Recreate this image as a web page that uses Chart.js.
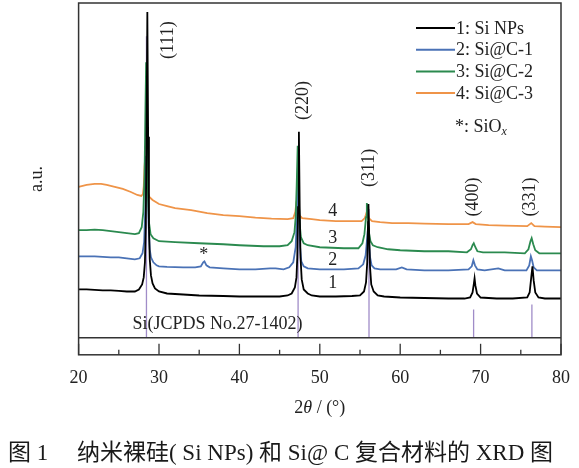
<html>
<head>
<meta charset="utf-8">
<style>
  body { margin: 0; background: #fff; }
</style>
</head>
<body>
<canvas id="xrd" width="579" height="468"></canvas>
<script src="https://cdn.jsdelivr.net/npm/chart.js@4.4.0/dist/chart.umd.min.js"></script>
<script>
// [2theta, intensity (a.u., offset per curve)]
const siNps = [
  [20,48],[21,48],[22,47.5],[23,47],[24,47],[25,46.5],[26,46],[27,46],[27.5,48],[27.9,53],[28.1,60],
  [28.25,75],[28.35,110],[28.45,200],[28.55,324],[28.65,200],[28.75,110],[28.85,78],[29.0,62],[29.2,54],
  [29.5,49],[30,46],[31,44],[33,43],[35,42],[38,41.5],[40,41],[43,41],[45,41],[46,42],[46.5,44],
  [46.9,50],[47.1,60],[47.2,80],[47.3,130],[47.4,205],[47.5,130],[47.6,80],[47.75,58],[48,48],[48.5,44],
  [49,42],[50,41],[52,41],[54,41.5],[55,42],[55.5,46],[55.75,55],[55.9,75],[56.0,115],[56.05,133],
  [56.15,100],[56.25,70],[56.4,53],[56.7,46],[57.2,42],[58,41],[60,40],[63,39.5],[66,39],[68,39],
  [68.7,40],[69.0,45],[69.15,53],[69.25,59],[69.35,52],[69.55,44],[70,40],[72,39],[74,39],[75.8,40],
  [76.1,45],[76.3,60],[76.45,71],[76.6,57],[76.8,45],[77.2,40],[78,39],[80,39]
];
const siC1 = [
  [20,81],[21,81],[22,81],[23,80.5],[24,80],[25,80],[26,79],[27,78],[27.6,79],[27.95,84],[28.15,95],
  [28.3,130],[28.4,180],[28.5,230],[28.6,170],[28.7,115],[28.85,88],[29.0,80],[29.3,75],[29.7,72],[30,71],
  [31,70.5],[33,70],[34.5,70],[35.2,71],[35.5,75],[35.65,76],[35.9,72],[36.3,70],[38,69],[40,68],[42,68],
  [43.8,69],[44.5,69],[45.5,68],[46.2,70],[46.7,75],[47.0,90],[47.15,120],[47.3,180],[47.42,130],
  [47.55,90],[47.7,76],[48,71],[48.5,69],[50,68],[53,68],[54.8,69],[55.4,73],[55.7,82],[55.9,100],
  [56.0,110],[56.1,98],[56.25,80],[56.45,72],[56.8,69],[57.5,68],[59.5,68],[60.2,70],[60.8,68],[63,67],
  [66,67],[68.5,68],[68.9,71],[69.1,77],[69.3,72],[69.6,68],[70.5,67],[72.2,69],[73,67],[75.7,67],
  [76.05,72],[76.25,81],[76.4,77],[76.6,70],[77,67],[78,67],[80,67]
];
const siC2 = [
  [20,107],[21,107],[22,107.5],[23,107],[24,106],[25,105],[26,104],[27,103],[27.5,104],[27.85,110],
  [28.05,125],[28.2,160],[28.3,220],[28.4,274],[28.5,210],[28.6,150],[28.75,115],[28.95,103],[29.3,99],
  [30,96],[32,95],[35,94],[38,93],[40,92],[43,91],[45,91],[46,92],[46.5,96],[46.85,105],[47.0,120],
  [47.12,150],[47.25,191],[47.35,150],[47.48,115],[47.65,100],[48,94],[48.5,92],[50,90],[53,89],
  [54.8,89],[55.3,94],[55.55,103],[55.75,120],[55.85,134],[55.95,125],[56.1,105],[56.3,96],[56.6,92],
  [57.2,90],[58.5,88],[60,87],[63,86],[66,86],[68.3,85],[68.8,88],[69.0,92],[69.15,94],[69.35,90],
  [69.6,86],[70.3,85],[73,85],[75.5,84],[75.95,88],[76.2,96],[76.35,99],[76.55,93],[76.8,87],[77.3,84],
  [78.5,84],[80,84]
];
const siC3 = [
  [20,150],[21,152],[22,153],[22.8,153],[23.5,152],[24.5,150],[25.5,148],[26.5,145],[27.3,142],[27.8,141],
  [28.0,143],[28.1,150],[28.2,170],[28.3,181],[28.4,165],[28.55,147],[28.8,140],[29.2,137],[30,133],
  [31,131],[32,129],[34,127],[36,124],[38,122],[40,121],[42,119.5],[44,118.5],[46,118],[46.7,119],
  [46.95,125],[47.1,135],[47.2,138],[47.3,130],[47.45,122],[47.8,119],[49,118],[50,117],[52,116],
  [54,116],[55.2,116],[55.6,119],[55.8,124],[55.95,123],[56.1,119],[56.5,116],[57.5,115],[59,114],
  [61,114],[63,113.5],[66,113],[68.5,113],[69.0,115],[69.4,113],[71,112],[73,111.5],[75.8,111],
  [76.3,114],[76.7,111],[78,110.5],[80,110]
];
// Si JCPDS No.27-1402 reference lines
const refPos = [28.44, 47.30, 56.12, 69.13, 76.38];
const refTop = [300, 190, 128, 28, 33];
const hkl = ['(111)', '(220)', '(311)', '(400)', '(331)'];

const seriesLabels = ['1: Si NPs', '2: Si@C-1', '3: Si@C-2', '4: Si@C-3'];
const seriesData = [siNps, siC1, siC2, siC3];
const seriesColors = ['#000000', '#4a72b6', '#2b8a4f', '#ef9448'];
const drawOrder = [1, 3, 2, 4];

const SERIF = '"Liberation Serif", "Times New Roman", serif';
const toXY = arr => arr.map(p => ({x: p[0], y: p[1]}));

const datasets = seriesData.map((d, i) => ({
  label: seriesLabels[i],
  data: toXY(d),
  borderColor: seriesColors[i],
  borderWidth: 1.8,
  pointRadius: 0,
  tension: 0,
  order: drawOrder[i]
}));
refPos.forEach((p, i) => {
  datasets.push({
    label: '',
    isRef: true,
    data: [{x: p, y: 0}, {x: p, y: refTop[i]}],
    borderColor: '#a08cc8',
    borderWidth: 1.3,
    pointRadius: 0,
    order: 10
  });
});

const decorations = {
  id: 'decorations',
  afterDatasetsDraw(chart) {
    const ctx = chart.ctx;
    const a = chart.chartArea;
    const xs = chart.scales.x, ys = chart.scales.y;
    ctx.save();
    // frame and reference strip
    ctx.strokeStyle = '#333';
    ctx.lineWidth = 1.5;
    ctx.strokeRect(a.left, a.top, a.right - a.left, a.bottom - a.top);
    const y0 = ys.getPixelForValue(0);
    ctx.beginPath();
    ctx.moveTo(a.left, y0); ctx.lineTo(a.right, y0);
    ctx.stroke();
    // inward ticks
    ctx.lineWidth = 1.3;
    for (let v = 20; v <= 80; v += 5) {
      const px = xs.getPixelForValue(v);
      const len = v % 10 === 0 ? 11 : 5;
      ctx.beginPath();
      ctx.moveTo(px, a.bottom); ctx.lineTo(px, a.bottom - len);
      ctx.stroke();
    }
    ctx.fillStyle = '#222';
    ctx.font = '18px ' + SERIF;
    // hkl labels, rotated
    const hklPos = [[31.1, 296], [48.0, 236], [56.2, 169], [69.05, 140], [76.2, 140]];
    hkl.forEach((t, i) => {
      ctx.save();
      ctx.translate(xs.getPixelForValue(hklPos[i][0]), ys.getPixelForValue(hklPos[i][1]));
      ctx.rotate(-Math.PI / 2);
      ctx.textAlign = 'center';
      ctx.textBaseline = 'middle';
      ctx.fillText(t, 0, 0);
      ctx.restore();
    });
    // curve numbers
    ctx.textAlign = 'center';
    ctx.textBaseline = 'middle';
    [[126, '4'], [99, '3'], [77, '2'], [54, '1']].forEach(n => {
      ctx.fillText(n[1], xs.getPixelForValue(51.6), ys.getPixelForValue(n[0]));
    });
    ctx.fillText('*', xs.getPixelForValue(35.56), ys.getPixelForValue(82));
    ctx.textAlign = 'left';
    ctx.fillText('Si(JCPDS No.27-1402)', xs.getPixelForValue(26.7), ys.getPixelForValue(13));
    // legend
    const lx0 = 416, lx1 = 455;
    chart.data.datasets.filter(d => !d.isRef).forEach((d, i) => {
      const ly = 28 + i * 21.7;
      ctx.strokeStyle = d.borderColor;
      ctx.lineWidth = 2;
      ctx.beginPath();
      ctx.moveTo(lx0, ly); ctx.lineTo(lx1, ly);
      ctx.stroke();
      ctx.fillStyle = '#222';
      ctx.fillText(d.label, lx1 + 1, ly + 1);
    });
    ctx.fillText('*: SiO', 455, 127);
    let w = ctx.measureText('*: SiO').width;
    ctx.font = 'italic 12px ' + SERIF;
    ctx.fillText('x', 455 + w, 132);
    // x axis title: 2θ / (°)
    const cx = (a.left + a.right) / 2, ty = 408;
    const parts = [['2', ''], ['θ', 'italic '], [' / (°)', '']];
    let total = 0;
    parts.forEach(p => { ctx.font = p[1] + '18px ' + SERIF; total += ctx.measureText(p[0]).width; });
    let x = cx - total / 2;
    parts.forEach(p => {
      ctx.font = p[1] + '18px ' + SERIF;
      ctx.fillText(p[0], x, ty);
      x += ctx.measureText(p[0]).width;
    });
    ctx.restore();
  }
};

new Chart(document.getElementById('xrd'), {
  type: 'line',
  data: { datasets },
  options: {
    responsive: false,
    animation: false,
    devicePixelRatio: 1,
    layout: { padding: { top: 3, right: 18, left: 0, bottom: 0 } },
    plugins: {
      legend: { display: false },
      tooltip: { enabled: false },
      title: {
        display: true,
        position: 'bottom',
        text: '图 1　 纳米裸硅( Si NPs) 和 Si@ C 复合材料的 XRD 图',
        color: '#1a1a1a',
        font: { family: '"Liberation Serif", "Noto Sans CJK SC", serif', size: 23, weight: 'normal' },
        padding: { top: 38, bottom: 0 }
      }
    },
    scales: {
      x: {
        type: 'linear',
        min: 20, max: 80,
        grid: { display: false, drawTicks: false },
        border: { display: false },
        ticks: { stepSize: 10, padding: 13, color: '#222', font: { family: SERIF, size: 18 } },
        afterFit(scale) { scale.paddingLeft = 0; scale.paddingRight = 0; }
      },
      y: {
        min: -17, max: 333,
        grid: { display: false, drawTicks: false },
        border: { display: false },
        ticks: { display: false },
        title: {
          display: true,
          text: 'a.u.',
          color: '#222',
          font: { family: SERIF, size: 18 },
          padding: { top: 26, bottom: 31 }
        }
      }
    }
  },
  plugins: [decorations]
});
</script>
</body>
</html>
